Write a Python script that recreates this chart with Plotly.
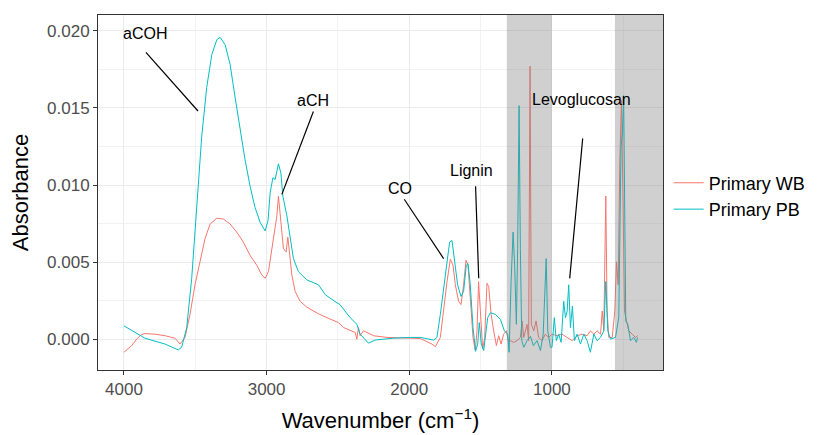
import plotly.graph_objects as go

# spectra (wavenumber, absorbance)
wn_pb = [4000, 3853, 3712, 3619, 3595, 3560, 3525, 3490, 3455, 3420, 3384, 3349, 3326, 3291,
         3256, 3221, 3186, 3151, 3116, 3081, 3046, 3010, 2990, 2975, 2956, 2940, 2917, 2900,
         2886, 2858, 2835, 2812, 2777, 2718, 2636, 2589, 2507, 2486, 2414, 2367, 2344, 2321,
         2286, 2239, 2110, 1993, 1923, 1829, 1806, 1782, 1759, 1735, 1717, 1700, 1682, 1661,
         1637, 1619, 1600, 1588, 1572, 1553, 1535, 1520, 1509, 1495, 1478, 1467, 1450, 1431,
         1396, 1361, 1333, 1310, 1300, 1286, 1272, 1261, 1249, 1240, 1230, 1221, 1211, 1197,
         1174, 1150, 1130, 1104, 1080, 1061, 1040, 1029, 1010, 999, 983, 969, 952, 935, 917,
         905, 893, 882, 870, 856, 842, 823, 800, 776, 753, 730, 706, 683, 659, 636, 622, 608,
         589, 554, 531, 515, 505, 497, 490, 482, 468, 449, 426, 407, 400]
abs_pb = [0.00088, 0.00008, -0.0003, -0.00068, -0.0005, 0.00077, 0.00396, 0.00887, 0.01313,
          0.01632, 0.01846, 0.01942, 0.01957, 0.0191, 0.01782, 0.01569, 0.01356, 0.01164,
          0.00993, 0.00855, 0.0076, 0.00703, 0.0077, 0.00951, 0.01047, 0.01036, 0.01138,
          0.01079, 0.00929, 0.00801, 0.00663, 0.00524, 0.00439, 0.00386, 0.00354, 0.0029,
          0.00237, 0.00226, 0.00141, 0.00098, 0.00034, 0.00013, -0.00024, -0.00004, 0.00008,
          0.00013, 0.00013, -0.00004, 0.00013, 0.00162, 0.00332, 0.00481, 0.00631, 0.00641,
          0.00524, 0.00354, 0.00279, 0.00311, 0.00481, 0.00492, 0.00354, 0.00077, -0.00077,
          -0.0003, 0.00109, -0.0003, -0.00072, 0.00013, 0.00141, 0.00173, 0.00162, 0.0013,
          0.00056, 0.00034, -0.00083, 0.00375, 0.00695, 0.00481, 0.00098, 0.00588, 0.01515,
          0.00588, -0.00008, -0.00051, -0.00008, 0.0002, -0.0004, -0.00008, -0.00072, 0.00034,
          0.00524, 0.00056, -0.00051, -0.00051, 0.00141, -0.00008, 0.00034, -0.00019, 0.00247,
          0.00141, 0.00184, 0.00354, 0.00077, 0.00215, -0.00008, 0.00034, -0.0003, 0.00034,
          -0.00008, -0.00083, 0.00034, -0.00008, 0.00013, 0.00056, 0.00375, 0.00056, 0.00002,
          0.00013, 0.00141, 0.0125, 0.0134, 0.0158, 0.0095, 0.0012, 0.00098, -0.00008, 0.00013,
          -0.00019, 0.00013]

wn_wb = [4000, 3946, 3911, 3880, 3853, 3782, 3712, 3642, 3607, 3572, 3537, 3502, 3467, 3432,
         3396, 3349, 3303, 3256, 3209, 3163, 3116, 3069, 3034, 3010, 2987, 2963, 2947, 2928,
         2917, 2900, 2882, 2863, 2851, 2840, 2823, 2800, 2765, 2718, 2636, 2577, 2496, 2460,
         2402, 2379, 2367, 2356, 2344, 2321, 2250, 2156, 1993, 1923, 1841, 1817, 1782, 1759,
         1735, 1712, 1693, 1677, 1654, 1637, 1619, 1602, 1588, 1572, 1553, 1537, 1525, 1514,
         1502, 1485, 1471, 1455, 1443, 1426, 1408, 1389, 1373, 1356, 1338, 1319, 1303, 1291,
         1268, 1244, 1221, 1209, 1197, 1174, 1163, 1153, 1144, 1127, 1111, 1093, 1069, 1046,
         1023, 999, 963, 929, 893, 858, 823, 788, 753, 730, 706, 683, 659, 647, 636, 622, 613,
         601, 577, 559, 547, 535, 524, 512, 500, 491, 477, 461, 437, 414, 400]
abs_wb = [-0.00083, -0.0004, 0.00002, 0.0003, 0.00038, 0.00034, 0.00024, 0.00008, -0.0003,
          0.00013, 0.00162, 0.00354, 0.00503, 0.00652, 0.00748, 0.00785, 0.0078, 0.00748,
          0.00695, 0.00631, 0.00545, 0.00481, 0.00418, 0.00396, 0.0044, 0.006, 0.00673,
          0.00801, 0.00929, 0.00737, 0.00588, 0.00567, 0.00663, 0.00567, 0.00418, 0.00311,
          0.00247, 0.00209, 0.00166, 0.00141, 0.00109, 0.00077, 0.00056, 0.00045, 0.00002,
          0.00077, 0.00024, 0.00056, 0.00024, 0.00013, 0.00008, 0.00006, -0.0003, -0.00047,
          0.00013, 0.00205, 0.00375, 0.0052, 0.00481, 0.00354, 0.00247, 0.00226, 0.00354,
          0.00513, 0.00481, 0.00269, 0.00013, -0.00072, 0.00056, 0.00375, 0.00162, -0.00062,
          0.00013, 0.00364, 0.00343, 0.00162, 0.00056, -0.0004, 0.00024, -0.0003, 0.00034,
          0.00056, -0.00019, -0.00008, -0.00019, -0.00008, 0.00013, 0.0012, 0.00013, 0.00098,
          -0.00008, 0.0177, 0.00098, 0.00056, 0.0012, 0.00013, -0.00008, 0.00034, 0.00013,
          0.00034, 0.00024, 0.00034, 0.00013, -0.00008, 0.00024, 0.00034, 0.00024, 0.00056,
          0.00034, 0.00056, 0.00034, 0.00184, 0.00056, 0.00929, 0.00184, 0.00013, 0.00013,
          0.00184, 0.00503, 0.00354, 0.01143, 0.0155, 0.00823, 0.00184, 0.0012, 0.00056,
          0.00034, 0.00013, 0.00024]

# labelled bands: text position and leader segment
labels = ["aCOH", "aCH", "CO", "Lignin", "Levoglucosan"]
label_x = [3853, 2674, 2063, 1567, 795]
label_y = [0.0198, 0.0155, 0.00978, 0.01095, 0.01552]
seg_x0 = [3846, 2672, 2035, 1535, 784]
seg_y0 = [0.0186, 0.01477, 0.00908, 0.00993, 0.01302]
seg_x1 = [3481, 2893, 1759, 1513, 875]
seg_y1 = [0.0148, 0.0094, 0.00524, 0.00396, 0.00396]

# shaded fingerprint windows
band_lo = [1000, 221]
band_hi = [1316, 558]

FONT = "Liberation Sans, Arial, sans-serif"

fig = go.Figure()
fig.add_trace(go.Scatter(x=wn_wb, y=abs_wb, mode="lines", name="Primary WB",
                         line=dict(color="#F8766D", width=1)))
fig.add_trace(go.Scatter(x=wn_pb, y=abs_pb, mode="lines", name="Primary PB",
                         line=dict(color="#00BFC4", width=1)))

for lo, hi in zip(band_lo, band_hi):
    fig.add_shape(type="rect", x0=hi, x1=lo, y0=0, y1=1, xref="x", yref="paper",
                  fillcolor="rgba(128,128,128,0.37)", line_width=0, layer="above")

for t, x, y, a, b, c, d in zip(labels, label_x, label_y, seg_x0, seg_y0, seg_x1, seg_y1):
    fig.add_shape(type="line", x0=a, y0=b, x1=c, y1=d, xref="x", yref="y",
                  line=dict(color="black", width=1.2))
    fig.add_annotation(x=x, y=y, text=t, showarrow=False, xanchor="center", yanchor="middle",
                       font=dict(size=16, color="black", family=FONT))

fig.update_xaxes(range=[4182, 221], tickvals=[4000, 3000, 2000, 1000],
                 showgrid=True, gridcolor="#EBEBEB", gridwidth=1,
                 minor=dict(tickvals=[3500, 2500, 1500, 500], showgrid=True,
                            gridcolor="#F2F2F2", gridwidth=0.6),
                 showline=True, mirror=True, linecolor="#333333", linewidth=1,
                 ticks="outside", ticklen=4, tickcolor="#333333", zeroline=False,
                 tickfont=dict(size=17, color="#4D4D4D", family=FONT),
                 title=dict(text="Wavenumber (cm<sup>−1</sup>)", standoff=14,
                            font=dict(size=22, color="black", family=FONT)))
fig.update_yaxes(range=[-0.00198, 0.02102], tickvals=[0, 0.005, 0.01, 0.015, 0.02],
                 tickformat=".3f",
                 showgrid=True, gridcolor="#EBEBEB", gridwidth=1,
                 minor=dict(tickvals=[-0.0025, 0.0025, 0.0075, 0.0125, 0.0175], showgrid=True,
                            gridcolor="#F2F2F2", gridwidth=0.6),
                 showline=True, mirror=True, linecolor="#333333", linewidth=1,
                 ticks="outside", ticklen=4, tickcolor="#333333", zeroline=False,
                 tickfont=dict(size=17, color="#4D4D4D", family=FONT),
                 title=dict(text="Absorbance", standoff=12,
                            font=dict(size=22, color="black", family=FONT)))

# page body adds an 8px offset, so the figure is 8px smaller and margins shifted
fig.update_layout(
    width=817, height=427,
    margin=dict(l=90, r=162, t=6, b=62),
    paper_bgcolor="white", plot_bgcolor="white",
    font=dict(family=FONT),
    legend=dict(x=1.01, y=0.49, xanchor="left", yanchor="middle",
                font=dict(size=18, color="black", family=FONT),
                bgcolor="rgba(0,0,0,0)", tracegroupgap=0),
)

fig.write_html("out.html")
